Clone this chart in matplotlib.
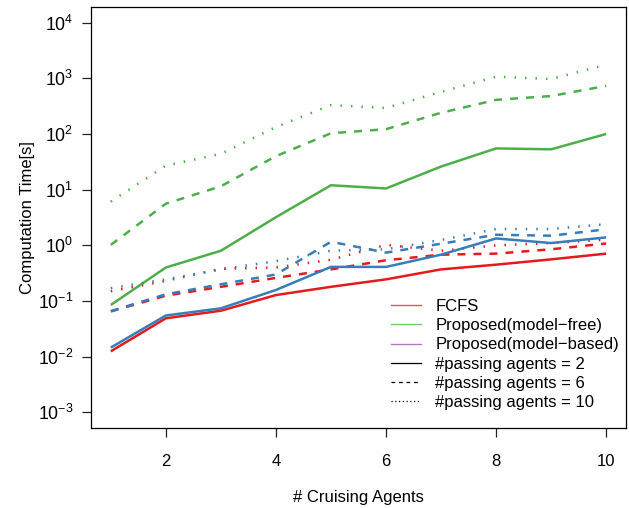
import math

import matplotlib
matplotlib.use("Agg")
import matplotlib.pyplot as plt
from matplotlib.lines import Line2D
from matplotlib.ticker import FixedLocator, FuncFormatter

plt.rcParams["font.family"] = ["Liberation Sans", "DejaVu Sans"]
plt.rcParams["mathtext.fontset"] = "custom"
plt.rcParams["mathtext.rm"] = "Liberation Sans"
plt.rcParams["mathtext.it"] = "Liberation Sans"

agents = [1, 2, 3, 4, 5, 6, 7, 8, 9, 10]

# FCFS
fcfs_2 = [0.0125, 0.049, 0.067, 0.128, 0.18, 0.245, 0.37, 0.45, 0.56, 0.71]
fcfs_6 = [0.065, 0.125, 0.18, 0.26, 0.37, 0.54, 0.68, 0.71, 0.85, 1.08]
fcfs_10 = [0.15, 0.23, 0.38, 0.40, 0.55, 1.02, 0.80, 1.0, 1.1, 1.26]

# Proposed (model-free)
free_2 = [0.085, 0.40, 0.80, 3.2, 12.0, 10.5, 26.0, 55.0, 53.0, 100.0]
free_6 = [1.02, 5.6, 11.5, 40.0, 103.0, 122.0, 240.0, 410.0, 480.0, 730.0]
free_10 = [6.1, 27.0, 44.0, 133.0, 330.0, 293.0, 570.0, 1070.0, 970.0, 1750.0]

# Proposed (model-based)
based_2 = [0.0146, 0.055, 0.074, 0.158, 0.41, 0.41, 0.68, 1.33, 1.10, 1.39]
based_6 = [0.066, 0.132, 0.20, 0.30, 1.16, 0.74, 1.07, 1.55, 1.49, 1.94]
based_10 = [0.17, 0.245, 0.37, 0.52, 0.80, 0.85, 1.25, 1.96, 1.96, 2.4]

RED = "#E41A1C"
GREEN = "#4DAF4A"
BLUE = "#377EB8"
PURPLE = "#984EA3"

LW = 1.8
DASH = (3.2, 3.2)
DOT = (0.6, 3.6)
FS = 12

fig = plt.figure(figsize=(6.29, 5.08), dpi=100)
ax = fig.add_axes([91 / 629, 1 - 428 / 508, (626 - 91) / 629, (428 - 7) / 508])

series = [
    (fcfs_2, RED, None), (fcfs_6, RED, DASH), (fcfs_10, RED, DOT),
    (free_2, GREEN, None), (free_6, GREEN, DASH), (free_10, GREEN, DOT),
    (based_2, BLUE, None), (based_6, BLUE, DASH), (based_10, BLUE, DOT),
]
for vals, col, dash in series:
    line, = ax.plot(agents, vals, color=col, linewidth=LW, solid_capstyle="butt")
    if dash is not None:
        line.set_dashes(dash)
        line.set_dash_capstyle("butt")

ax.set_yscale("log")
ax.set_xlim(0.64, 10.36)
ax.set_ylim(10 ** -3.28, 10 ** 4.28)
ax.minorticks_off()
ax.yaxis.set_major_locator(FixedLocator([10.0 ** k for k in range(-3, 5)]))
ax.yaxis.set_major_formatter(
    FuncFormatter(lambda v, _: r"$\mathregular{10^{%d}}$" % round(math.log10(v)))
)
ax.set_xticks([2, 4, 6, 8, 10])

ax.tick_params(axis="both", direction="out", length=6.5, width=0.9, labelsize=FS, color="#222222")
ax.tick_params(axis="x", pad=12)
ax.tick_params(axis="y", pad=6, labelsize=12.8)
for spine in ax.spines.values():
    spine.set_linewidth(0.9)

ax.set_xlabel("# Cruising Agents", fontsize=FS, labelpad=15)
ax.set_ylabel("Computation Time[s]", fontsize=FS, labelpad=2)

handles = [
    Line2D([], [], color=RED, linewidth=1.0, alpha=0.75),
    Line2D([], [], color=GREEN, linewidth=1.0, alpha=0.75),
    Line2D([], [], color=PURPLE, linewidth=1.0, alpha=0.75),
    Line2D([], [], color="black", linewidth=0.9),
    Line2D([], [], color="black", linewidth=0.9, dashes=(3, 3)),
    Line2D([], [], color="black", linewidth=0.9, dashes=(1, 2)),
]
labels = [
    "FCFS",
    "Proposed(model\u2212free)",
    "Proposed(model\u2212based)",
    "#passing agents = 2",
    "#passing agents = 6",
    "#passing agents = 10",
]
ax.legend(handles, labels, loc="lower left", bbox_to_anchor=(0.561, 0.043),
          frameon=False, fontsize=FS, handlelength=1.8, handletextpad=0.84,
          labelspacing=0.25, borderpad=0, borderaxespad=0)

fig.savefig("out.png", dpi=100)
